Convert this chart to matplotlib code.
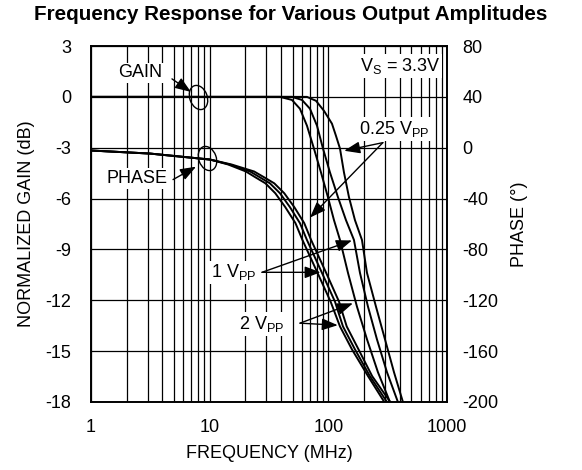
import numpy as np
import matplotlib
matplotlib.use("agg")
import matplotlib.pyplot as plt
from matplotlib.path import Path

plt.rcParams['font.family'] = ['Liberation Sans', 'DejaVu Sans']
plt.rcParams['mathtext.fontset'] = 'custom'
plt.rcParams['mathtext.rm'] = 'Liberation Sans'
plt.rcParams['axes.unicode_minus'] = False

# gain curves (MHz, dB)
gain_db = [0, 0, -0.18, -0.70, -1.70, -3.05, -4.45, -5.92, -7.27, -8.44, -10.38, -12.37, -14.30, -16.24, -18.0]
gain_f_2 = [1, 39.1, 49.3, 57.6, 66.0, 75.6, 86.6, 99.2, 111.5, 125.3, 146.3, 174.1, 211.5, 261.6, 330.3]
gain_f_1 = [1, 49.3, 59.9, 70.0, 80.2, 90.1, 103.1, 120.5, 140.7, 164.3, 184.6, 215.6, 256.6, 311.7, 385.5]
gain_f_025 = [1, 66.0, 78.6, 91.8, 107.2, 115.8, 125.3, 135.3, 149.2, 167.5, 191.9, 211.5, 251.8, 299.9, 357.2, 424.9]
gain_db_025 = [0, 0, -0.23, -0.82, -1.58, -2.29, -3.05, -4.45, -5.92, -7.27, -8.44, -10.38, -12.37, -14.30, -16.24, -18.0]

# phase curves (MHz, degrees)
phase_deg = [-2.2, -4.6, -9.3, -13.2, -18.7, -23.3, -28.0, -35.8, -46.8, -59.3, -72.6,
             -98.4, -121.1, -140.6, -158.6, -179.7, -200]
phase_f_2 = [1, 3.14, 10.06, 14.3, 20.2, 24.3, 29.5, 35.7, 43.4, 52.8, 60.5, 81.0, 104.5, 125.3, 158.0, 216.0, 296.0]
phase_f_1 = [1, 3.14, 10.06, 14.8, 21.9, 26.5, 32.2, 39.1, 47.5, 57.6, 66.0, 88.3, 113.7, 132.8, 167.5, 224.0, 311.7]
phase_f_025 = [1, 3.14, 10.06, 15.3, 23.7, 28.8, 35.0, 42.5, 51.7, 62.6, 71.6, 95.8, 123.0, 142.8, 179.5, 234.0, 332.0]

gain_ticks = [3, 0, -3, -6, -9, -12, -15, -18]
phase_ticks = [80, 40, 0, -40, -80, -120, -160, -200]

fig = plt.figure(figsize=(5.82, 4.70), dpi=100)
ax = fig.add_axes([0.1564, 0.1447, 0.6117, 0.7574])
ax2 = ax.twinx()

lw = 1.4
ax.plot(gain_f_025, gain_db_025, color='black', lw=lw, zorder=5)
ax.plot(gain_f_1, gain_db, color='black', lw=lw, zorder=5)
ax.plot(gain_f_2, gain_db, color='black', lw=lw, zorder=5)
for f in [phase_f_025, phase_f_1, phase_f_2]:
    ax2.plot(f, phase_deg, color='black', lw=lw, zorder=5)

ax.set_xscale('log')
ax.set_xlim(1, 1000)
ax.set_ylim(-18, 3)
ax2.set_ylim(-200, 80)
ax.set_yticks(gain_ticks)
ax2.set_yticks(phase_ticks)
ax.set_xticks([1, 10, 100, 1000])
ax.set_xticklabels(['1', '10', '100', '1000'])
ax.xaxis.set_minor_formatter(matplotlib.ticker.NullFormatter())

ax.grid(which='both', axis='x', color='black', lw=0.9)
ax.grid(which='major', axis='y', color='black', lw=0.9)
ax.set_axisbelow(True)
for a in (ax, ax2):
    for s in a.spines.values():
        s.set_linewidth(1.2)
fs = 13
ax.tick_params(which='both', length=0, labelsize=fs)
ax.tick_params(axis='y', pad=14)
ax.tick_params(axis='x', pad=12)
ax2.tick_params(length=0, labelsize=fs, pad=11)

ax.set_xlabel('FREQUENCY (MHz)', fontsize=fs, labelpad=7)
ax.set_ylabel('NORMALIZED GAIN (dB)', fontsize=fs, labelpad=8)
ax2.set_ylabel('PHASE (°)', fontsize=fs, labelpad=9)
fig.suptitle('Frequency Response for Various Output Amplitudes', fontsize=14.9,
             fontweight='bold', x=0.5, y=0.99)

# ellipse markers
t = np.radians(20)
circ = Path.unit_circle()
v = circ.vertices * [0.7, 1.0]
rot = np.array([[np.cos(t), -np.sin(t)], [np.sin(t), np.cos(t)]])
ell = Path(v @ rot.T, circ.codes)
ax.plot([7.97], [0], marker=ell, ms=18, mfc='none', mec='black', mew=1.0, zorder=6)
ax.plot([9.5], [-3.59], marker=ell, ms=18, mfc='none', mec='black', mew=1.0, zorder=6)

ap = dict(arrowstyle='-|>,head_length=0.8,head_width=0.3', color='black', lw=1.0,
          shrinkA=0, shrinkB=0, mutation_scale=12)
box = dict(boxstyle='square,pad=0.1', fc='white', ec='none')

ax.text(2.59, 1.41, 'GAIN', fontsize=fs, ha='center', va='center', bbox=box, zorder=7)
ax.annotate('', xy=(6.96, 0.29), xytext=(4.81, 1.06), arrowprops=ap, zorder=7)

ax.text(2.44, -4.82, 'PHASE', fontsize=fs, ha='center', va='center', bbox=box, zorder=7)
ax.annotate('', xy=(7.67, -4.12), xytext=(4.91, -4.88), arrowprops=ap, zorder=7)

ax.text(880, 1.82, r'V$_{\mathregular{S}}$ = 3.3V', fontsize=fs, ha='right', va='center',
        bbox=box, zorder=7)

ax.text(357, -1.88, r'0.25 V$_{\mathregular{PP}}$', fontsize=fs, ha='center', va='center',
        bbox=box, zorder=7)
ax.annotate('', xy=(136, -3.18), xytext=(288, -2.7), arrowprops=ap, zorder=7)
ax.annotate('', xy=(70, -7.12), xytext=(288, -2.7), arrowprops=ap, zorder=7)

ax.text(16.0, -10.35, r'1 V$_{\mathregular{PP}}$', fontsize=fs, ha='center', va='center',
        bbox=box, zorder=7)
ax.annotate('', xy=(158, -8.47), xytext=(27.6, -10.35), arrowprops=ap, zorder=7)
ax.annotate('', xy=(86, -10.35), xytext=(27.6, -10.35), arrowprops=ap, zorder=7)

ax.text(27.6, -13.41, r'2 V$_{\mathregular{PP}}$', fontsize=fs, ha='center', va='center',
        bbox=box, zorder=7)
ax.annotate('', xy=(161, -12.18), xytext=(57.7, -13.35), arrowprops=ap, zorder=7)
ax.annotate('', xy=(120, -13.47), xytext=(57.7, -13.35), arrowprops=ap, zorder=7)

fig.savefig('out.png', dpi=100)
